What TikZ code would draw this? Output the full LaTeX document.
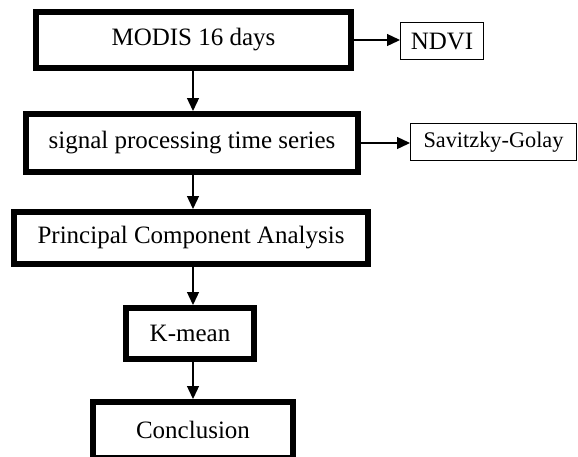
\documentclass[tikz,border=0pt]{standalone}
\usepackage{fontspec}
\setmainfont{Liberation Serif}
\usetikzlibrary{arrows.meta}
\begin{document}
\begin{tikzpicture}[x=1pt,y=-1pt,
  thickbox/.style={draw=black,line width=6pt,inner sep=0pt,align=center,
    font=\fontsize{25}{28}\selectfont},
  thinbox/.style={draw=black,line width=1.2pt,inner sep=0pt,align=center},
  arr/.style={line width=1.3pt,-{Triangle[length=13pt,width=12pt]}}]
\useasboundingbox (0,0) rectangle (578,456);
\node[thickbox,minimum width=315pt,minimum height=56pt] (modis) at (193.5,40) {MODIS 16 days};
\node[thinbox,minimum width=82.8pt,minimum height=36.8pt,font=\fontsize{25}{28}\selectfont] (ndvi) at (442,41) {NDVI};
\node[thickbox,minimum width=332pt,minimum height=58pt] (signal) at (192,143) {signal processing time series};
\node[thinbox,minimum width=165.8pt,minimum height=36.8pt,font=\fontsize{22.3}{26}\selectfont] (sg) at (493.5,142) {Savitzky-Golay};
\node[thickbox,minimum width=354pt,minimum height=52pt] (pca) at (191,238) {Principal Component Analysis};
\node[thickbox,minimum width=128pt,minimum height=51pt] (kmean) at (190,333.5) {K-mean};
\node[thickbox,minimum width=200pt,minimum height=56pt] (concl) at (193,430) {Conclusion};
\coordinate (col) at (193,0);
\draw[arr] (modis.east) -- (ndvi.west |- modis.east);
\draw[arr] (signal.east) -- (sg.west |- signal.east);
\draw[arr] (modis.south -| col) -- (signal.north -| col);
\draw[arr] (signal.south -| col) -- (pca.north -| col);
\draw[arr] (pca.south -| col) -- (kmean.north -| col);
\draw[arr] (kmean.south -| col) -- (concl.north -| col);
\end{tikzpicture}
\end{document}
